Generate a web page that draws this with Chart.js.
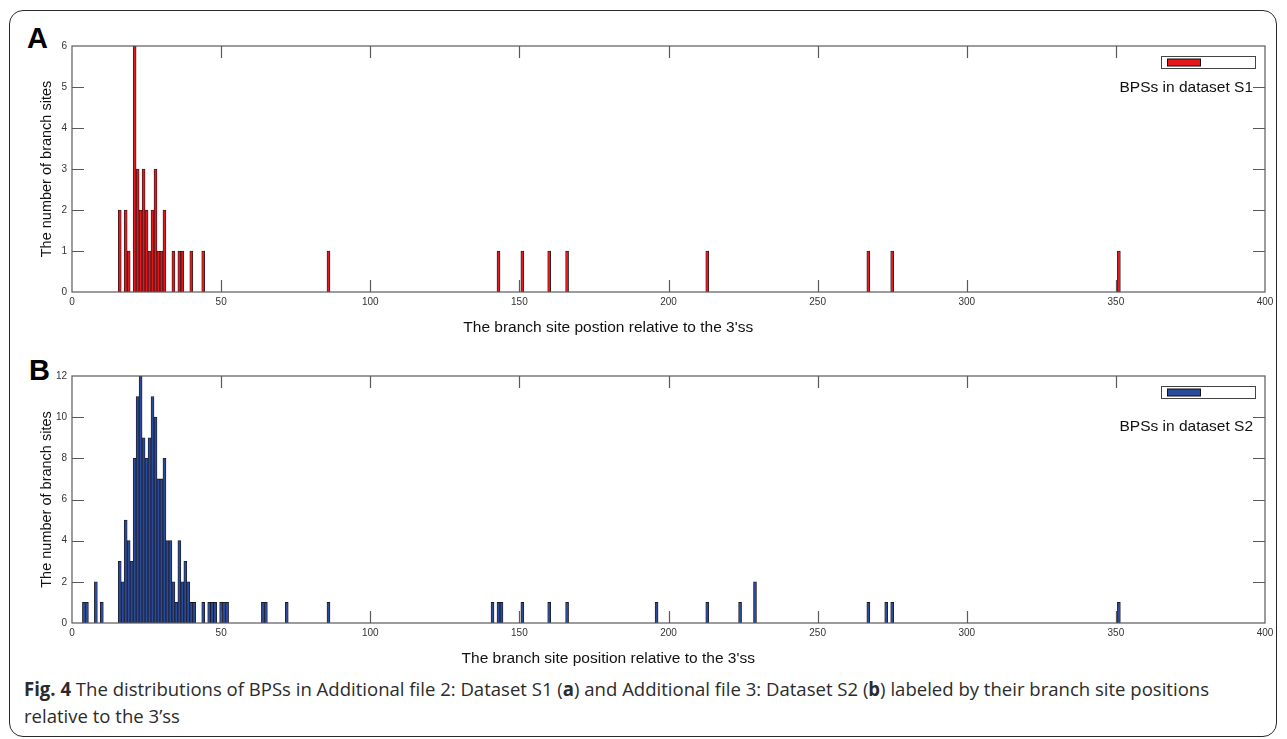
<!DOCTYPE html>
<html>
<head>
<meta charset="utf-8">
<script src="https://cdn.jsdelivr.net/npm/chart.js@4.4.1/dist/chart.umd.min.js"></script>
<style>
html,body{margin:0;padding:0;background:#fff;width:1287px;height:739px;overflow:hidden;}
#frame{position:absolute;left:9px;top:10px;width:1268px;height:727px;border:1.3px solid #2a2a2a;border-radius:14px;box-sizing:border-box;}
.panel{position:absolute;font:bold 29px 'Liberation Sans',Arial,sans-serif;color:#000;line-height:29px;}
.wrap{position:absolute;left:0;width:1287px;height:340px;}
#caption{position:absolute;left:24px;top:676px;font:19px 'Open Sans',sans-serif;color:#2b2b2b;line-height:27px;transform-origin:0 0;white-space:nowrap;}
#caption b{font-weight:700;}
</style>
</head>
<body>
<div id="frame"></div>
<div class="panel" style="left:27px;top:24px;">A</div>
<div class="panel" style="left:29px;top:356px;">B</div>
<div class="wrap" style="top:0;"><canvas id="chartA" width="1287" height="340"></canvas></div>
<div class="wrap" style="top:330px;"><canvas id="chartB" width="1287" height="340"></canvas></div>
<div id="caption"><span id="cap1"><b>Fig. 4</b> The distributions of BPSs in Additional file 2: Dataset S1 (<b>a</b>) and Additional file 3: Dataset S2 (<b>b</b>) labeled by their branch site positions</span><br><span>relative to the 3’ss</span></div>
<script>
// ---- data ----
const positionsA = [16,18,19,21,22,23,24,25,26,27,28,29,30,31,34,36,37,40,44,86,143,151,160,166,213,267,275,351];
const countsA    = [2,2,1,6,3,2,3,2,1,2,3,1,1,2,1,1,1,1,1,1,1,1,1,1,1,1,1,1];
const positionsB = [4,5,8,10,16,17,18,19,20,21,22,23,24,25,26,27,28,29,30,31,32,33,34,35,36,37,38,39,40,41,44,46,47,48,50,51,52,64,65,72,86,141,143,144,151,160,166,196,213,224,229,267,273,275,351];
const countsB    = [1,1,2,1,3,2,5,4,3,8,11,12,9,8,9,11,10,7,7,8,4,4,2,1,4,2,3,2,1,1,1,1,1,1,1,1,1,1,1,1,1,1,1,1,1,1,1,1,1,1,2,1,1,1,1];
const xTicks = [0,50,100,150,200,250,300,350,400];
const yTicksA = [0,1,2,3,4,5,6];
const yTicksB = [0,2,4,6,8,10,12];
const labelA = 'BPSs in dataset S1';
const labelB = 'BPSs in dataset S2';
const xTitleA = "The branch site postion relative to the 3'ss";
const xTitleB = "The branch site position relative to the 3'ss";
const yTitle = 'The number of branch sites';

// ---- fit caption ----
(function(){
  const cap = document.getElementById('caption');
  const w = document.getElementById('cap1').getBoundingClientRect().width;
  const s = 1185 / w;
  cap.style.transform = 'scaleX(' + s + ')';
})();

const FONT = "'Liberation Sans', Arial, sans-serif";

const boxPlugin = {
  id: 'matlabBox',
  afterDatasetsDraw(chart, args, opts) {
    const ctx = chart.ctx;
    const {left, right, top, bottom} = chart.chartArea;
    const xs = chart.scales.x, ys = chart.scales.y;
    ctx.save();
    ctx.strokeStyle = '#5a5a5a';
    ctx.lineWidth = 1.2;
    ctx.strokeRect(left, top, right - left, bottom - top);
    const TL = 12;
    ctx.beginPath();
    xs.ticks.forEach(t => {
      if (t.value <= xs.min || t.value >= xs.max) return;
      const px = Math.round(xs.getPixelForValue(t.value)) + 0.5;
      ctx.moveTo(px, bottom); ctx.lineTo(px, bottom - TL);
      ctx.moveTo(px, top); ctx.lineTo(px, top + TL);
    });
    ys.ticks.forEach(t => {
      if (t.value <= ys.min || t.value >= ys.max) return;
      const py = Math.round(ys.getPixelForValue(t.value)) + 0.5;
      ctx.moveTo(left, py); ctx.lineTo(left + TL, py);
      ctx.moveTo(right, py); ctx.lineTo(right - TL, py);
    });
    ctx.stroke();

    // legend (MATLAB-style box with swatch, label below)
    const ds = chart.data.datasets[0];
    const bx = right - 103.5, by = top + 10.5, bw = 94, bh = 12;
    ctx.fillStyle = '#fff';
    ctx.fillRect(bx, by, bw, bh);
    ctx.strokeStyle = '#444';
    ctx.lineWidth = 1;
    ctx.strokeRect(bx, by, bw, bh);
    ctx.fillStyle = ds.backgroundColor;
    ctx.fillRect(bx + 6, by + 2.5, 33, 7);
    ctx.strokeStyle = '#111';
    ctx.strokeRect(bx + 6, by + 2.5, 33, 7);
    ctx.fillStyle = '#111';
    ctx.font = '15.5px ' + FONT;
    ctx.textAlign = 'right';
    ctx.textBaseline = 'middle';
    ctx.fillText(ds.label, right - 12, top + opts.legendTextDy);

    // x title
    ctx.fillStyle = '#111';
    ctx.font = '15.5px ' + FONT;
    ctx.textAlign = 'center';
    ctx.textBaseline = 'middle';
    ctx.fillText(opts.xTitle, left + (right - left) * 0.4495, bottom + 36);
    ctx.restore();
  }
};

function makeChart(id, positions, counts, yMax, yTicks, color, label, xTitle, legendDy, padBottom) {
  const data = positions.map((p, i) => ({x: p, y: counts[i]}));
  return new Chart(document.getElementById(id), {
    type: 'bar',
    data: {
      datasets: [{
        label: label,
        data: data,
        backgroundColor: color,
        borderColor: '#1a1a1a',
        borderWidth: 0.8,
        borderSkipped: 'start',
        barPercentage: 1,
        categoryPercentage: 1
      }]
    },
    options: {
      responsive: false,
      animation: false,
      events: [],
      layout: {padding: {left: 34, right: 22, top: 46, bottom: padBottom}},
      plugins: {
        legend: {display: false},
        tooltip: {enabled: false},
        matlabBox: {xTitle: xTitle, legendTextDy: legendDy}
      },
      scales: {
        x: {
          type: 'linear',
          offset: false,
          min: 0, max: 400,
          afterBuildTicks: s => { s.ticks = xTicks.map(v => ({value: v})); },
          grid: {display: false, drawTicks: false},
          border: {display: false},
          ticks: {color: '#333', font: {family: FONT, size: 10}, padding: 4, maxRotation: 0},
          afterFit: s => { s.height = 20; }
        },
        y: {
          min: 0, max: yMax,
          afterBuildTicks: s => { s.ticks = yTicks.map(v => ({value: v})); },
          grid: {display: false, drawTicks: false},
          border: {display: false},
          ticks: {color: '#333', font: {family: FONT, size: 10}, padding: 5},
          title: {display: true, text: yTitle, color: '#111', font: {family: FONT, size: 14.5}, padding: {top: 4, bottom: 0}},
          afterFit: s => { s.width = 38; }
        }
      }
    },
    plugins: [boxPlugin]
  });
}

makeChart('chartA', positionsA, countsA, 6, yTicksA, '#e4191e', labelA, xTitleA, 42, 28);
makeChart('chartB', positionsB, countsB, 12, yTicksB, '#2c4a9c', labelB, xTitleB, 51, 27);
</script>
</body>
</html>
